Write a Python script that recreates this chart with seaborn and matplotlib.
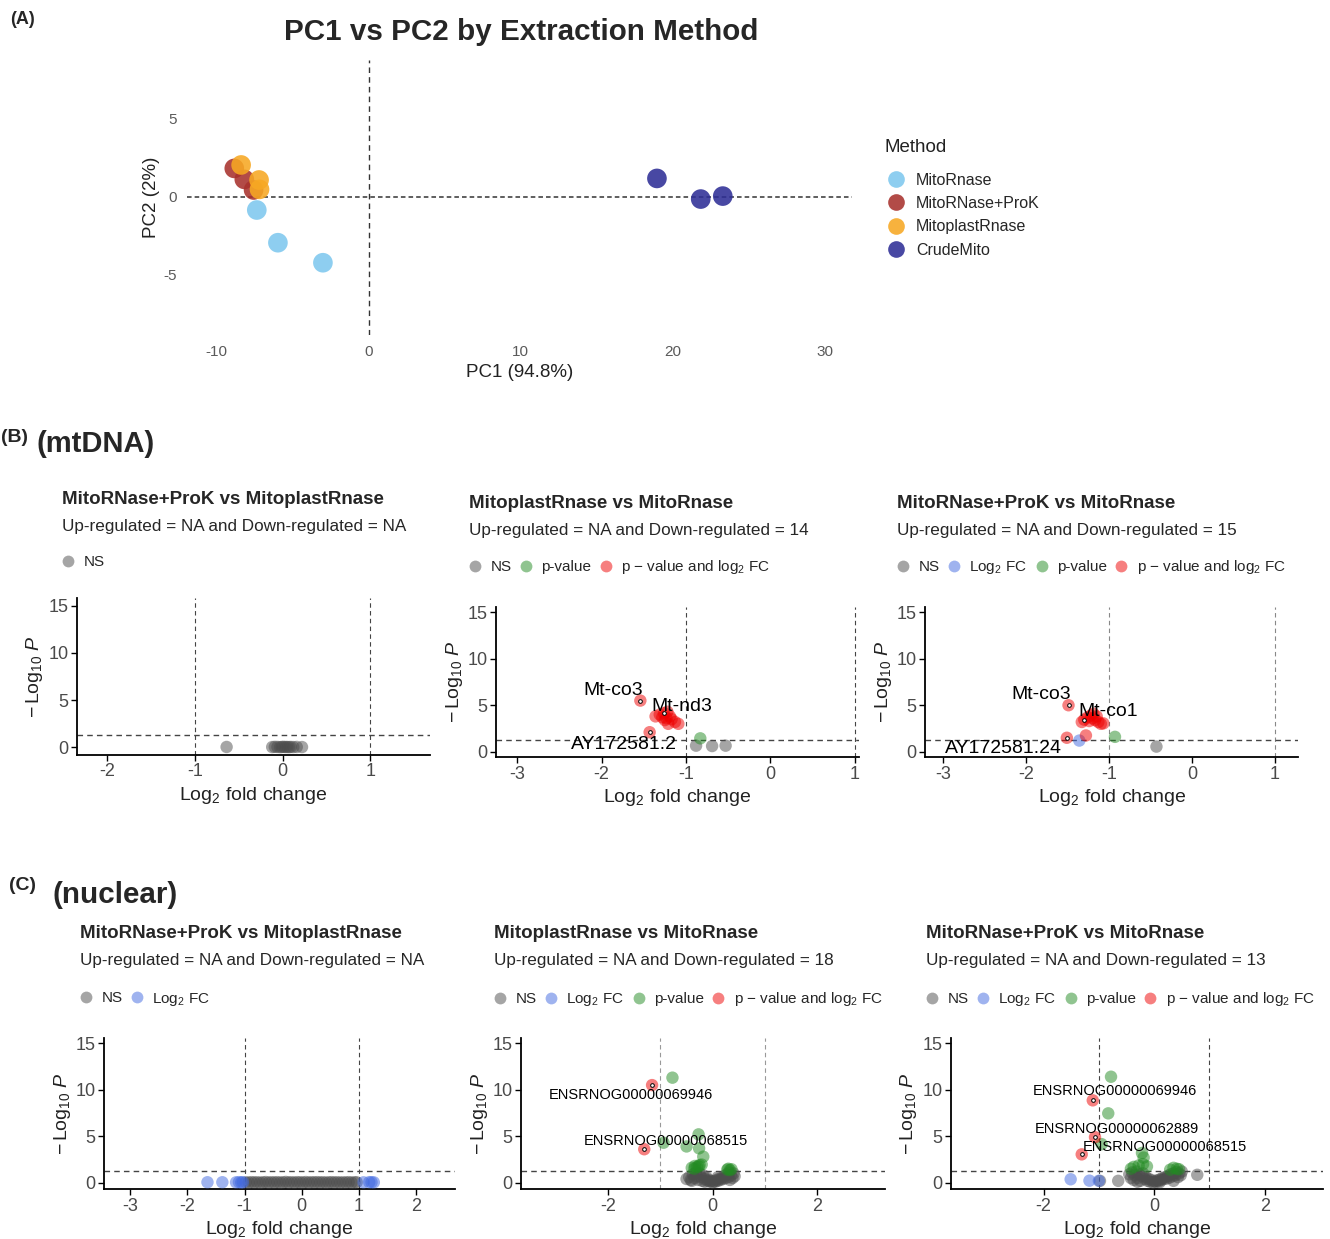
import matplotlib
matplotlib.use("Agg")
import matplotlib.pyplot as plt
import seaborn as sns
import pandas as pd
from matplotlib.lines import Line2D

sns.set_theme(style="white")
plt.rcParams["font.family"] = ["Liberation Sans", "DejaVu Sans"]
plt.rcParams["mathtext.fontset"] = "custom"
plt.rcParams["mathtext.rm"] = "Liberation Sans"
plt.rcParams["mathtext.it"] = "Liberation Sans:italic"
plt.rcParams["mathtext.bf"] = "Liberation Sans:bold"
plt.rcParams["axes.unicode_minus"] = False

# ---------------- Panel A data (PCA) ----------------
pca_methods = ["MitoRnase", "MitoRNase+ProK", "MitoplastRnase", "CrudeMito"]
pca_colors = ["#7EC8EE", "#A8322D", "#F7A823", "#2E2E96"]
pca_method = (["MitoRnase"] * 3 + ["MitoRNase+ProK"] * 3 +
              ["MitoplastRnase"] * 3 + ["CrudeMito"] * 3)
pca_pc1 = [-7.35, -5.96, -3.0, -8.83, -8.17, -7.56, -8.38, -7.2, -7.17, 18.97, 21.85, 23.3]
pca_pc2 = [-0.85, -2.94, -4.22, 1.81, 1.11, 0.43, 2.03, 1.07, 0.47, 1.17, -0.15, 0.04]

# ---------------- Panel B data (mtDNA volcanoes) ----------------
# B1: MitoRNase+ProK vs MitoplastRnase
b1_ns_x = [-0.64, -0.12, -0.09, -0.06, -0.03, -0.01, 0.01, 0.03, 0.05, 0.07, 0.09, 0.12, 0.16, 0.22]
b1_ns_y = [0.05, 0.04, 0.06, 0.05, 0.03, 0.05, 0.06, 0.04, 0.05, 0.03, 0.05, 0.04, 0.05, 0.04]

# B2: MitoplastRnase vs MitoRnase
b2_ns_x = [-0.88, -0.69, -0.53]
b2_ns_y = [0.65, 0.61, 0.65]
b2_p_x = [-0.83]
b2_p_y = [1.44]
b2_both_x = [-1.54, -1.43, -1.36, -1.31, -1.28, -1.26, -1.25, -1.23, -1.22, -1.21, -1.19, -1.17, -1.13, -1.09]
b2_both_y = [5.5, 2.1, 3.8, 4.0, 3.7, 4.15, 3.4, 3.6, 4.3, 3.0, 3.8, 3.5, 3.2, 3.0]
b2_lab = ["Mt-co3", "Mt-nd3", "AY172581.2"]
b2_lab_x = [-1.54, -1.26, -1.43]
b2_lab_y = [5.5, 4.15, 2.1]
b2_lab_tx = [-1.86, -1.05, -1.74]
b2_lab_ty = [6.55, 4.85, 0.8]

# B3: MitoRNase+ProK vs MitoRnase
b3_ns_x = [-0.43]
b3_ns_y = [0.55]
b3_fc_x = [-1.36]
b3_fc_y = [1.2]
b3_p_x = [-0.93]
b3_p_y = [1.6]
b3_both_x = [-1.49, -1.51, -1.28, -1.33, -1.30, -1.26, -1.24, -1.22, -1.20, -1.19, -1.17, -1.15, -1.13, -1.10, -1.07]
b3_both_y = [5.0, 1.5, 1.75, 3.2, 3.45, 3.7, 3.3, 3.9, 3.6, 4.1, 3.4, 3.8, 3.2, 3.0, 3.05]
b3_lab = ["Mt-co3", "Mt-co1", "AY172581.24"]
b3_lab_x = [-1.49, -1.30, -1.51]
b3_lab_y = [5.0, 3.45, 1.5]
b3_lab_tx = [-1.82, -1.01, -2.28]
b3_lab_ty = [6.2, 4.3, 0.37]

# ---------------- Panel C data (nuclear volcanoes) ----------------
# C1: MitoRNase+ProK vs MitoplastRnase
c1_ns_x = [-0.98, -0.93, -0.88, -0.83, -0.78, -0.73, -0.68, -0.63, -0.58, -0.53,
           -0.48, -0.43, -0.38, -0.33, -0.28, -0.23, -0.18, -0.13, -0.08, -0.03,
           0.02, 0.07, 0.12, 0.17, 0.22, 0.27, 0.32, 0.37, 0.42, 0.47,
           0.52, 0.57, 0.62, 0.67, 0.72, 0.77, 0.82, 0.87, 0.92, 0.96]
c1_ns_y = [0.04, 0.02, 0.06, 0.03, 0.05, 0.01, 0.04, 0.07, 0.02, 0.05,
           0.03, 0.06, 0.02, 0.04, 0.08, 0.03, 0.05, 0.02, 0.06, 0.04,
           0.03, 0.07, 0.02, 0.05, 0.04, 0.06, 0.03, 0.05, 0.02, 0.04,
           0.06, 0.03, 0.05, 0.02, 0.04, 0.03, 0.06, 0.02, 0.04, 0.05]
c1_fc_x = [-1.65, -1.39, -1.15, -1.10, -1.06, -1.03, 1.08, 1.18, 1.22, 1.26]
c1_fc_y = [0.05, 0.05, 0.04, 0.06, 0.03, 0.05, 0.04, 0.06, 0.05, 0.04]

# C2: MitoplastRnase vs MitoRnase
c2_ns_x = [-0.50, -0.45, -0.42, -0.38, -0.35, -0.32, -0.30, -0.28, -0.25, -0.22,
           -0.20, -0.18, -0.15, -0.12, -0.10, -0.08, -0.05, -0.03, 0.00, 0.02,
           0.05, 0.07, 0.10, 0.12, 0.15, 0.17, 0.20, 0.22, 0.25, 0.27,
           0.30, 0.32, 0.35, 0.38, 0.40, 0.42, 0.33, -0.40, 0.10, -0.15]
c2_ns_y = [0.4, 0.6, 0.3, 0.9, 0.5, 1.1, 0.7, 0.3, 1.0, 0.6,
           0.2, 0.8, 0.4, 0.6, 0.2, 0.3, 0.1, 0.2, 0.05, 0.15,
           0.1, 0.3, 0.2, 0.4, 0.3, 0.5, 0.4, 0.7, 0.5, 0.9,
           0.6, 1.1, 0.8, 0.5, 1.0, 0.7, 0.3, 0.2, 0.6, 0.1]
c2_p_x = [-0.77, -0.27, -0.94, -0.50, -0.26, -0.18, -0.34, -0.27, -0.21, -0.40,
          -0.35, -0.30, -0.25, 0.30, 0.33, 0.28, 0.36]
c2_p_y = [11.3, 5.2, 4.3, 3.9, 3.7, 2.8, 1.8, 1.75, 1.95, 1.6,
          1.5, 1.7, 1.9, 1.5, 1.35, 1.4, 1.45]
c2_both_x = [-1.16, -1.31]
c2_both_y = [10.5, 3.6]
c2_lab = ["ENSRNOG00000069946", "ENSRNOG00000068515"]
c2_lab_x = [-1.16, -1.31]
c2_lab_y = [10.5, 3.6]
c2_lab_tx = [-1.57, -0.89]
c2_lab_ty = [9.4, 4.45]

# C3: MitoRNase+ProK vs MitoRnase
c3_ns_x = [-0.98, -0.65, 0.78, -0.45, -0.42, -0.40, -0.37, -0.35, -0.32, -0.30,
           -0.27, -0.25, -0.22, -0.20, -0.17, -0.15, -0.12, -0.10, -0.07, -0.05,
           -0.02, 0.00, 0.03, 0.05, 0.08, 0.10, 0.13, 0.15, 0.18, 0.20,
           0.23, 0.25, 0.28, 0.30, 0.33, 0.35, 0.38, 0.40, 0.43, 0.45,
           0.48, 0.50, 0.10, -0.30, 0.35]
c3_ns_y = [0.2, 0.2, 0.85, 0.9, 0.5, 1.1, 0.3, 0.8, 1.2, 0.5,
           0.9, 0.2, 0.7, 1.0, 0.4, 0.6, 0.2, 0.4, 0.1, 0.3,
           0.05, 0.15, 0.1, 0.25, 0.15, 0.35, 0.3, 0.5, 0.4, 0.6,
           0.45, 0.75, 0.55, 0.9, 0.7, 1.0, 0.8, 1.15, 0.6, 1.0,
           0.8, 1.2, 0.05, 0.1, 0.2]
c3_fc_x = [-1.51, -1.17, -1.00]
c3_fc_y = [0.37, 0.22, 0.2]
c3_p_x = [-0.78, -0.83, -0.95, -0.22, -0.19, -0.37, -0.28, -0.13, -0.42, 0.41,
          0.29, 0.35, 0.45, -0.20]
c3_p_y = [11.4, 7.46, 4.15, 3.2, 2.7, 1.7, 1.85, 1.75, 1.5, 1.5,
          1.4, 1.6, 1.45, 2.0]
c3_both_x = [-1.11, -1.07, -1.31]
c3_both_y = [8.86, 4.9, 3.05]
c3_lab = ["ENSRNOG00000069946", "ENSRNOG00000062889", "ENSRNOG00000068515"]
c3_lab_x = [-1.11, -1.07, -1.31]
c3_lab_y = [8.86, 4.9, 3.05]
c3_lab_tx = [-0.71, -0.68, 0.20]
c3_lab_ty = [9.86, 5.8, 3.86]

# ---------------- figure ----------------
W, H = 1330, 1239
fig = plt.figure(figsize=(W / 100, H / 100), dpi=100)


def rect(x0, y0, x1, y1):
    return [x0 / W, 1 - y1 / H, (x1 - x0) / W, (y1 - y0) / H]


def ftext(x, y, s, **kw):
    fig.text(x / W, 1 - y / H, s, **kw)


# ---------- Panel A ----------
axA = fig.add_axes(rect(187, 60, 852, 335))
dfA = pd.DataFrame({"PC1": pca_pc1, "PC2": pca_pc2, "Method": pca_method})
sns.scatterplot(data=dfA, x="PC1", y="PC2", hue="Method", hue_order=pca_methods,
                palette=pca_colors, s=200, alpha=0.88, edgecolor="none",
                legend=False, ax=axA, zorder=3)
axA.axhline(0, color="#333333", lw=1.1, ls=(0, (3, 2)), zorder=1)
axA.axvline(0, color="#333333", lw=1.0, ls=(0, (4, 3)), zorder=1)
axA.set_xlim(-11.94, 31.8)
axA.set_ylim(-8.84, 8.74)
axA.set_xticks([-10, 0, 10, 20, 30])
axA.set_yticks([-5, 0, 5])
for sp in axA.spines.values():
    sp.set_visible(False)
axA.tick_params(length=0, labelsize=11, labelcolor="#5a5a5a", pad=7)
axA.set_xlabel("PC1 (94.8%)", fontsize=13.5, color="#222222", labelpad=4)
axA.set_ylabel("PC2 (2%)", fontsize=13.5, color="#222222", labelpad=3)
handlesA = [Line2D([], [], ls="none", marker="o", markersize=12, alpha=0.88,
                   markerfacecolor=c, markeredgecolor="none") for c in pca_colors]
legA = axA.legend(handlesA, pca_methods, title="Method", loc="upper left",
                  bbox_to_anchor=(885 / W, 1 - 139 / H), bbox_transform=fig.transFigure,
                  frameon=False, fontsize=11.5, title_fontsize=13.5, borderpad=0,
                  handlelength=1.4, handletextpad=0.55, labelspacing=0.52, borderaxespad=0)
legA._legend_box.align = "left"
legA._legend_box.sep = 12
legA.get_title().set_color("#222222")

ftext(521, 32, "PC1 vs PC2 by Extraction Method", fontsize=21.3, fontweight="bold",
      ha="center", va="center")
ftext(10, 19, "(A)", fontsize=13, fontweight="bold", ha="left", va="center")
ftext(1, 438, "(B)", fontsize=14, fontweight="bold", ha="left", va="center")
ftext(36, 444, "(mtDNA)", fontsize=21, fontweight="bold", ha="left", va="center")
ftext(9, 886, "(C)", fontsize=14, fontweight="bold", ha="left", va="center")
ftext(52, 895, "(nuclear)", fontsize=21.3, fontweight="bold", ha="left", va="center")

# ---------- volcano helper ----------
CATS = ["NS", "Log2 FC", "p-value", "both"]
CAT_COLORS = {"NS": "#4D4D4D", "Log2 FC": "#4169E1", "p-value": "#228B22", "both": "#EE0000"}
CAT_LABELS = {"NS": "NS", "Log2 FC": r"$\mathrm{Log}_{2}$ FC", "p-value": "p-value",
              "both": r"p $-$ value and $\mathrm{log}_{2}$ FC"}


def volcano(box, series, xlim, ylim, xticks, title, subtitle, legend_cats,
            title_x, title_y, leg_y, labels=None, lab_size=14, vline_col="#444444"):
    ax = fig.add_axes(rect(*box))
    frames = []
    for cat, xs, ys in series:
        frames.append(pd.DataFrame({"lfc": xs, "nlp": ys, "cat": cat}))
    df = pd.concat(frames, ignore_index=True)
    present = [c for c in CATS if c in set(df["cat"])]
    sns.scatterplot(data=df, x="lfc", y="nlp", hue="cat", hue_order=present,
                    palette=[CAT_COLORS[c] for c in present], s=80, alpha=0.5,
                    edgecolor="none", legend=False, ax=ax, zorder=3)
    for v in (-1, 1):
        ax.axvline(v, color=vline_col, lw=0.8, ls=(0, (4, 3)), zorder=1)
    ax.axhline(1.30103, color="#444444", lw=1.0, ls=(0, (4, 3)), zorder=1)
    ax.set_xlim(*xlim)
    ax.set_ylim(*ylim)
    ax.set_xticks(xticks)
    ax.set_yticks([0, 5, 10, 15])
    for name, sp in ax.spines.items():
        if name in ("left", "bottom"):
            sp.set_color("black")
            sp.set_linewidth(1.3)
        else:
            sp.set_visible(False)
    ax.tick_params(length=4, width=1, color="black", labelsize=13,
                   labelcolor="#4a4a4a", pad=2, left=True, bottom=True)
    ax.set_xlabel(r"$\mathrm{Log}_{2}$ fold change", fontsize=14, color="#222222", labelpad=3)
    ax.set_ylabel(r"$-\,\mathrm{Log}_{10}\ \mathit{P}$", fontsize=14, color="#222222", labelpad=2)
    if labels is not None:
        names, px, py, tx, ty = labels
        ax.scatter(px, py, s=7, facecolor="white", edgecolor="black", lw=0.7, zorder=5)
        for n, x, y in zip(names, tx, ty):
            ax.text(x, y, n, fontsize=lab_size, ha="center", va="center", color="black", zorder=6)
    ftext(title_x, title_y, title, fontsize=13.5, fontweight="bold", ha="left", va="center")
    ftext(title_x, title_y + 27, subtitle, fontsize=12.3, ha="left", va="center")
    fs = 11
    handles = [Line2D([], [], ls="none", marker="o", markersize=8.5, alpha=0.5,
                      markerfacecolor=CAT_COLORS[c], markeredgecolor="none") for c in legend_cats]
    ax.legend(handles, [CAT_LABELS[c] for c in legend_cats], ncol=len(legend_cats),
              loc="center left", bbox_to_anchor=((title_x) / W, 1 - leg_y / H),
              bbox_transform=fig.transFigure, frameon=False, fontsize=fs,
              borderpad=0, borderaxespad=0, handlelength=0.8, handletextpad=0.6,
              columnspacing=0.55)
    return ax


# B1
volcano((76.7, 598, 430, 755), [("NS", b1_ns_x, b1_ns_y)], (-2.35, 1.68), (-0.8, 15.8),
        [-2, -1, 0, 1], "MitoRNase+ProK vs MitoplastRnase",
        "Up-regulated = NA and Down-regulated = NA", ["NS"], 62, 499, 562)
# B2
volcano((496, 606.7, 859, 757.3),
        [("NS", b2_ns_x, b2_ns_y), ("p-value", b2_p_x, b2_p_y), ("both", b2_both_x, b2_both_y)],
        (-3.25, 1.05), (-0.6, 15.6), [-3, -2, -1, 0, 1], "MitoplastRnase vs MitoRnase",
        "Up-regulated = NA and Down-regulated = 14", ["NS", "p-value", "both"], 469, 503, 567,
        labels=(b2_lab, b2_lab_x, b2_lab_y, b2_lab_tx, b2_lab_ty), lab_size=14)
# B3
volcano((925, 606.7, 1298.3, 757.3),
        [("NS", b3_ns_x, b3_ns_y), ("Log2 FC", b3_fc_x, b3_fc_y), ("p-value", b3_p_x, b3_p_y),
         ("both", b3_both_x, b3_both_y)],
        (-3.22, 1.28), (-0.6, 15.6), [-3, -2, -1, 0, 1], "MitoRNase+ProK vs MitoRnase",
        "Up-regulated = NA and Down-regulated = 15", ["NS", "Log2 FC", "p-value", "both"],
        897, 503, 567, labels=(b3_lab, b3_lab_x, b3_lab_y, b3_lab_tx, b3_lab_ty), lab_size=14,
        vline_col="#888888")
# C1
volcano((104, 1037.7, 455, 1189.3), [("NS", c1_ns_x, c1_ns_y), ("Log2 FC", c1_fc_x, c1_fc_y)],
        (-3.46, 2.68), (-0.71, 15.6), [-3, -2, -1, 0, 1, 2], "MitoRNase+ProK vs MitoplastRnase",
        "Up-regulated = NA and Down-regulated = NA", ["NS", "Log2 FC"], 80, 934, 999)
# C2
volcano((521, 1037.7, 885, 1189.3),
        [("NS", c2_ns_x, c2_ns_y), ("p-value", c2_p_x, c2_p_y), ("both", c2_both_x, c2_both_y)],
        (-3.67, 3.3), (-0.71, 15.6), [-2, 0, 2], "MitoplastRnase vs MitoRnase",
        "Up-regulated = NA and Down-regulated = 18", ["NS", "Log2 FC", "p-value", "both"],
        494, 934, 999, labels=(c2_lab, c2_lab_x, c2_lab_y, c2_lab_tx, c2_lab_ty), lab_size=10.5,
        vline_col="#999999")
# C3
volcano((950.7, 1037.7, 1323.3, 1189.3),
        [("NS", c3_ns_x, c3_ns_y), ("Log2 FC", c3_fc_x, c3_fc_y), ("p-value", c3_p_x, c3_p_y),
         ("both", c3_both_x, c3_both_y)],
        (-3.68, 3.06), (-0.71, 15.6), [-2, 0, 2], "MitoRNase+ProK vs MitoRnase",
        "Up-regulated = NA and Down-regulated = 13", ["NS", "Log2 FC", "p-value", "both"],
        926, 934, 999, labels=(c3_lab, c3_lab_x, c3_lab_y, c3_lab_tx, c3_lab_ty), lab_size=10.5)

fig.savefig("out.png", dpi=100)
